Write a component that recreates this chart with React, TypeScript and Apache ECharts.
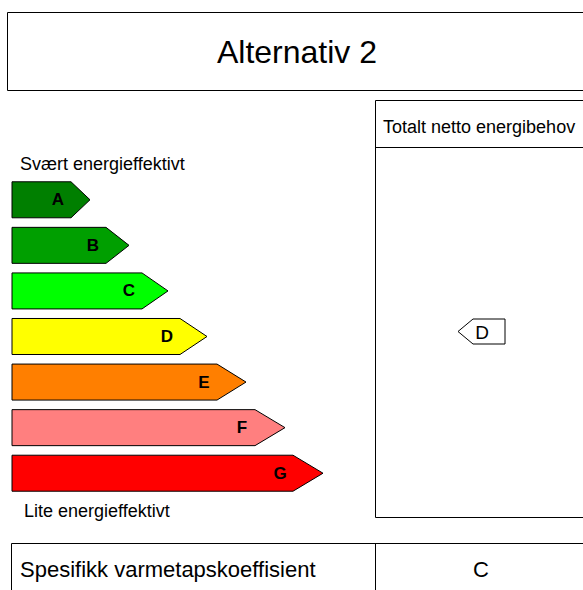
import React, { useEffect, useRef } from "react";
import * as echarts from "echarts";

// ---- data ----
const classes = ["A", "B", "C", "D", "E", "F", "G"];
const bodyEnd = [59, 94, 130, 168, 205, 243, 281];
const tipEnd = [78, 117, 156, 195, 234, 273, 311];
const classColors = ["#007F00", "#009F00", "#00FF00", "#FFFF00", "#FF7F00", "#FF7F7F", "#FF0000"];
const titleText = "Alternativ 2";
const topLabel = "Svært energieffektivt";
const bottomLabel = "Lite energieffektivt";
const panelTitle = "Totalt netto energibehov";
const resultClass = ["D"];
const coefLabel = "Spesifikk varmetapskoeffisient";
const coefClass = "C";

const FONT = '"Liberation Sans", Arial, sans-serif';

export default function App() {
  const ref = useRef<HTMLDivElement>(null);
  useEffect(() => {
    if (!ref.current) return;
    const chart = echarts.init(ref.current, null, { renderer: "svg" });
    const barData = classes.map((c, i) => [i, bodyEnd[i], tipEnd[i]]);
    const markerData = resultClass.map((c) => [classes.indexOf(c), 83]);
    chart.setOption({
      animation: false,
      backgroundColor: "#fff",
      grid: [
        { left: 12, top: 177, width: 330, height: 319 },
        { left: 375, top: 177, width: 208, height: 319 },
      ],
      xAxis: [
        { gridIndex: 0, type: "value", min: 0, max: 330, show: false },
        { gridIndex: 1, type: "value", min: 0, max: 208, show: false },
      ],
      yAxis: [
        { gridIndex: 0, type: "category", data: classes, inverse: true, show: false },
        { gridIndex: 1, type: "category", data: classes, inverse: true, show: false },
      ],
      series: [
        {
          type: "custom",
          xAxisIndex: 0,
          yAxisIndex: 0,
          encode: { x: [1, 2], y: 0 },
          data: barData,
          clip: false,
          renderItem: (params: any, api: any) => {
            const i = params.dataIndex;
            const cat = api.value(0);
            const p0 = api.coord([0, cat]);
            const pb = api.coord([api.value(1), cat]);
            const pt = api.coord([api.value(2), cat]);
            const h = api.size([0, 1])[1] * 0.79;
            const y0 = p0[1] - h / 2;
            const y1 = p0[1] + h / 2;
            return {
              type: "group",
              children: [
                {
                  type: "polygon",
                  shape: { points: [[p0[0], y0], [pb[0], y0], [pt[0], p0[1]], [pb[0], y1], [p0[0], y1]] },
                  style: { fill: classColors[i], stroke: "#000", lineWidth: 1 },
                },
                {
                  type: "text",
                  style: {
                    text: classes[i],
                    x: pb[0] - 13,
                    y: p0[1],
                    align: "center",
                    verticalAlign: "middle",
                    font: `bold 17px ${FONT}`,
                    fill: "#000",
                  },
                },
              ],
            };
          },
        },
        {
          type: "custom",
          xAxisIndex: 1,
          yAxisIndex: 1,
          encode: { x: 1, y: 0 },
          data: markerData,
          clip: false,
          renderItem: (params: any, api: any) => {
            const cat = api.value(0);
            const p = api.coord([api.value(1), cat]);
            const cy = p[1] - 5;
            const tx = p[0];
            const hh = 12.5;
            return {
              type: "group",
              children: [
                {
                  type: "polygon",
                  shape: { points: [[tx, cy], [tx + 15, cy - hh], [tx + 47, cy - hh], [tx + 47, cy + hh], [tx + 15, cy + hh]] },
                  style: { fill: "#fff", stroke: "#000", lineWidth: 1 },
                },
                {
                  type: "text",
                  style: {
                    text: resultClass[params.dataIndex],
                    x: tx + 24,
                    y: cy + 1,
                    align: "center",
                    verticalAlign: "middle",
                    font: `19px ${FONT}`,
                    fill: "#000",
                  },
                },
              ],
            };
          },
        },
      ],
      graphic: [
        { type: "rect", shape: { x: 7.5, y: 12.5, width: 600, height: 78 }, style: { fill: "none", stroke: "#000", lineWidth: 1 } },
        { type: "text", style: { text: titleText, x: 297, y: 52, align: "center", verticalAlign: "middle", font: `32px ${FONT}`, fill: "#000" } },
        { type: "text", style: { text: topLabel, x: 20, y: 164, align: "left", verticalAlign: "middle", font: `18px ${FONT}`, fill: "#000" } },
        { type: "text", style: { text: bottomLabel, x: 24, y: 511, align: "left", verticalAlign: "middle", font: `18px ${FONT}`, fill: "#000" } },
        { type: "rect", shape: { x: 375.5, y: 100.5, width: 300, height: 417 }, style: { fill: "none", stroke: "#000", lineWidth: 1 } },
        { type: "line", shape: { x1: 375.5, y1: 147.5, x2: 600, y2: 147.5 }, style: { stroke: "#000", lineWidth: 1 } },
        { type: "text", style: { text: panelTitle, x: 383, y: 127, align: "left", verticalAlign: "middle", font: `18px ${FONT}`, fill: "#000" } },
        { type: "rect", shape: { x: 11.5, y: 543.5, width: 700, height: 100 }, style: { fill: "none", stroke: "#000", lineWidth: 1 } },
        { type: "line", shape: { x1: 375.5, y1: 543.5, x2: 375.5, y2: 600 }, style: { stroke: "#000", lineWidth: 1 } },
        { type: "text", style: { text: coefLabel, x: 20, y: 569, align: "left", verticalAlign: "middle", font: `22px ${FONT}`, fill: "#000" } },
        { type: "text", style: { text: coefClass, x: 481, y: 569, align: "center", verticalAlign: "middle", font: `22px ${FONT}`, fill: "#000" } },
      ],
    });
    return () => chart.dispose();
  }, []);
  return (
    <div
      ref={ref}
      style={{ position: "fixed", left: 0, top: 0, width: 583, height: 590 }}
    />
  );
}
